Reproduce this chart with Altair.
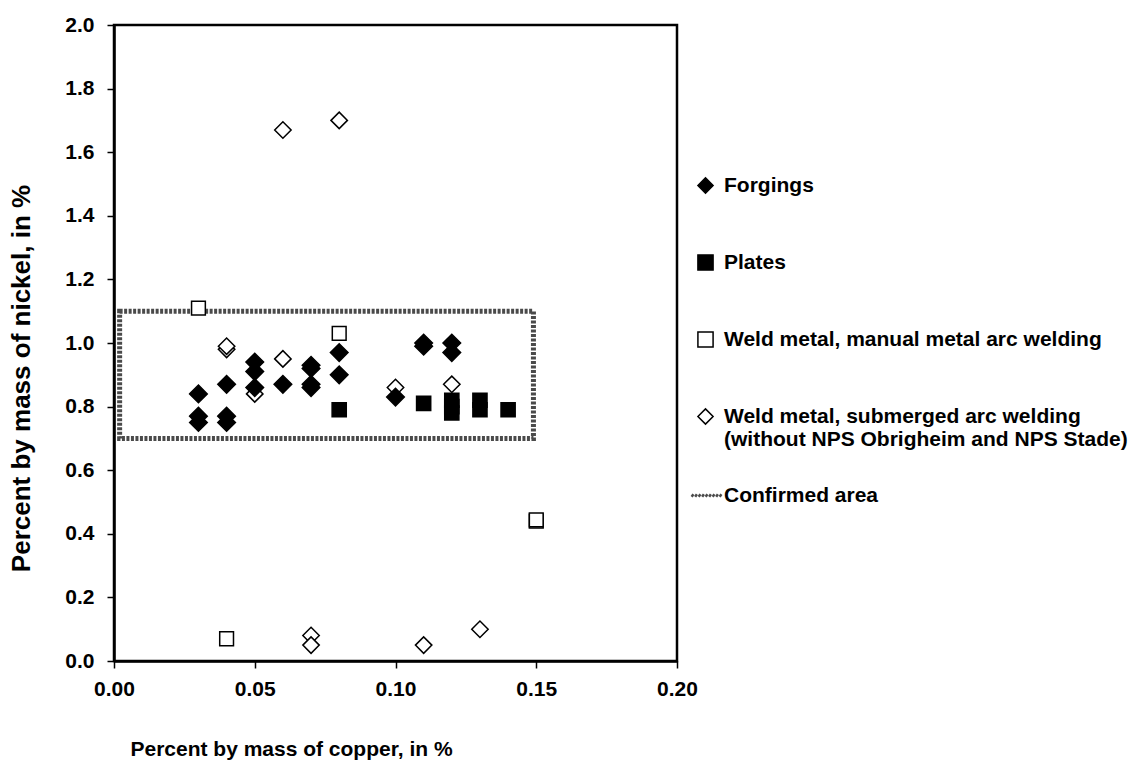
import altair as alt
import pandas as pd

# ---- data ----
series_names = [
    "Forgings",
    "Plates",
    "Weld metal, manual metal arc welding",
    "Weld metal, submerged arc welding (without NPS Obrigheim and NPS Stade)",
]

forg_x = [0.03, 0.03, 0.03, 0.04, 0.04, 0.04, 0.05, 0.05, 0.05, 0.06, 0.07, 0.07, 0.07, 0.07, 0.08, 0.08, 0.10, 0.11, 0.11, 0.12, 0.12]
forg_y = [0.84, 0.77, 0.75, 0.87, 0.77, 0.75, 0.94, 0.91, 0.86, 0.87, 0.93, 0.92, 0.87, 0.86, 0.97, 0.90, 0.83, 1.00, 0.99, 1.00, 0.97]

plate_x = [0.08, 0.11, 0.12, 0.12, 0.12, 0.13, 0.13, 0.14]
plate_y = [0.79, 0.81, 0.82, 0.80, 0.78, 0.82, 0.79, 0.79]

mma_x = [0.03, 0.04, 0.08, 0.15, 0.15]
mma_y = [1.11, 0.07, 1.03, 0.44, 0.444]

saw_x = [0.04, 0.04, 0.05, 0.06, 0.06, 0.08, 0.07, 0.07, 0.10, 0.11, 0.12, 0.13]
saw_y = [0.98, 0.99, 0.84, 0.95, 1.67, 1.70, 0.08, 0.05, 0.86, 0.05, 0.87, 0.10]

area_name = "Confirmed area"
area_x = [0.002, 0.149]
area_y = [0.70, 1.10]

x_ticks = [0.0, 0.05, 0.10, 0.15, 0.20]
y_ticks = [0.0, 0.2, 0.4, 0.6, 0.8, 1.0, 1.2, 1.4, 1.6, 1.8, 2.0]

# marker area per series (style, not data)
marker_size = {
    series_names[0]: 310,
    series_names[1]: 200,
    series_names[2]: 190,
    series_names[3]: 270,
}

# ---- tables (draw order: submerged arc, manual arc, plates, forgings on top) ----
rows = []
for xs, ys, name in [
    (saw_x, saw_y, series_names[3]),
    (mma_x, mma_y, series_names[2]),
    (plate_x, plate_y, series_names[1]),
    (forg_x, forg_y, series_names[0]),
]:
    for xv, yv in zip(xs, ys):
        rows.append({"cu": xv, "ni": yv, "series": name, "msize": marker_size[name]})
points_df = pd.DataFrame(rows)

area_df = pd.DataFrame({
    "x1": [area_x[0]], "x2": [area_x[1]],
    "y1": [area_y[0]], "y2": [area_y[1]],
    "area": [area_name],
})

FONT = "Liberation Sans"

xscale = alt.Scale(domain=[0, 0.2], nice=False, zero=False)
yscale = alt.Scale(domain=[0, 2.0], nice=False, zero=False)

x_axis = alt.Axis(
    values=x_ticks, format=".2f", title="Percent by mass of copper, in %",
    grid=False, domainColor="black", domainWidth=2.5,
    tickColor="black", tickSize=7, tickWidth=1.5,
    labelFont=FONT, labelFontSize=21, labelFontWeight="bold", labelColor="black",
    labelPadding=10, labelFlush=False,
    titleFont=FONT, titleFontSize=21, titleFontWeight="bold", titleColor="black",
    titleX=177, titleY=94, titleBaseline="alphabetic", titleAlign="center",
)
y_axis = alt.Axis(
    values=y_ticks, format=".1f", title="Percent by mass of nickel, in %",
    grid=False, domainColor="black", domainWidth=2.5,
    tickColor="black", tickSize=7, tickWidth=1.5,
    labelFont=FONT, labelFontSize=21, labelFontWeight="bold", labelColor="black",
    labelPadding=13, labelFlush=False,
    titleFont=FONT, titleFontSize=26, titleFontWeight="bold", titleColor="black",
    titleX=-85, titleY=353, titleBaseline="alphabetic", titleAlign="center", titleAngle=270,
)

saw_label = series_names[3]
label_expr = (
    "datum.label == '" + saw_label + "' ? "
    "['Weld metal, submerged arc welding', '(without NPS Obrigheim and NPS Stade)'] : datum.label"
)

main_legend = alt.Legend(
    title=None, orient="none", legendX=581, legendY=150,
    labelFont=FONT, labelFontSize=21, labelFontWeight="bold", labelColor="black",
    labelLimit=700, labelOffset=8, labelExpr=label_expr,
    symbolSize=230, symbolStrokeWidth=1.5,
    rowPadding=54,
)

rect = alt.Chart(area_df).mark_rect(
    filled=False, strokeWidth=5, strokeDash=[3, 1.5]
).encode(
    x=alt.X("x1:Q", scale=xscale, axis=x_axis),
    x2="x2:Q",
    y=alt.Y("y1:Q", scale=yscale, axis=y_axis),
    y2="y2:Q",
    stroke=alt.Stroke(
        "area:N",
        scale=alt.Scale(domain=[area_name], range=["#4a4a4a"]),
        legend=alt.Legend(
            title=None, orient="none", legendX=585, legendY=460,
            labelFont=FONT, labelFontSize=21, labelFontWeight="bold", labelColor="black",
            labelLimit=700, labelOffset=4,
            symbolType="M-5.1,0.35L-4.6,-0.35M-4.1,0.35L-3.6,-0.35M-3.1,0.35L-2.6,-0.35M-2.1,0.35L-1.6,-0.35M-1.1,0.35L-0.6,-0.35M-0.1,0.35L0.4,-0.35M0.9,0.35L1.4,-0.35M1.9,0.35L2.4,-0.35M2.9,0.35L3.4,-0.35",
            symbolSize=49, symbolStrokeWidth=2.5, symbolFillColor="transparent",
        ),
    ),
)

pts = alt.Chart(points_df).mark_point(
    filled=True, opacity=1, strokeWidth=1.5
).encode(
    x=alt.X("cu:Q", scale=xscale, axis=x_axis),
    y=alt.Y("ni:Q", scale=yscale, axis=y_axis),
    fill=alt.Fill("series:N", scale=alt.Scale(domain=series_names, range=["black", "black", "white", "white"]), legend=main_legend),
    shape=alt.Shape("series:N", scale=alt.Scale(domain=series_names, range=["diamond", "square", "square", "diamond"]), legend=main_legend),
    stroke=alt.Stroke("series:N", scale=alt.Scale(domain=series_names, range=["black", "black", "black", "black"]), legend=main_legend),
    size=alt.Size("msize:Q", scale=None, legend=None),
)

chart = alt.layer(rect, pts).resolve_scale(
    stroke="independent", fill="independent", shape="independent"
).resolve_legend(
    stroke="independent", fill="independent", shape="independent"
).properties(
    width=563, height=636,
    padding={"left": 106, "top": 17, "right": 452, "bottom": 104},
    autosize=alt.AutoSizeParams(type="none"),
    background="white",
).configure_view(stroke="black", strokeWidth=2.5)

chart.save("out.html", embed_options={"renderer": "svg", "actions": False})
